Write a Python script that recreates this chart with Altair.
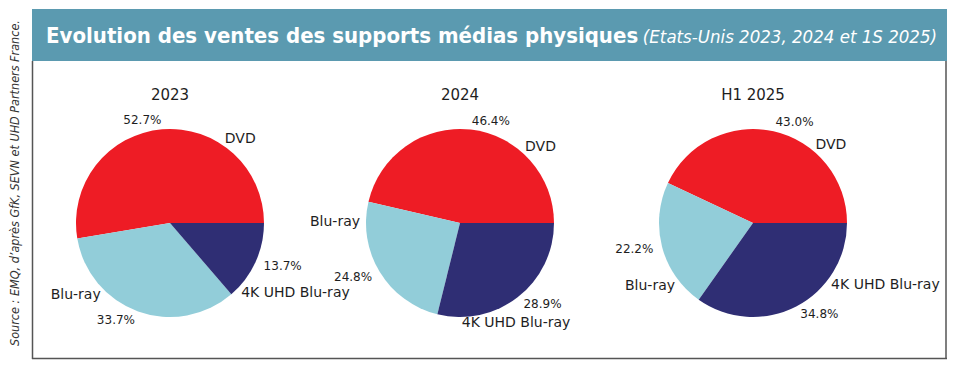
import math
import altair as alt
import pandas as pd

# ---------------- data ----------------
PANELS = ["2023", "2024", "H1 2025"]
CATEGORIES = ["DVD", "Blu-ray", "4K UHD Blu-ray"]
SHARES_2023 = [52.7, 33.7, 13.7]
SHARES_2024 = [46.4, 24.8, 28.9]
SHARES_H1_2025 = [43.0, 22.2, 34.8]
SHARES = [SHARES_2023, SHARES_2024, SHARES_H1_2025]
COLORS = ["#ee1c25", "#92cdd9", "#2f2e74"]

TITLE = "Evolution des ventes des supports médias physiques"
SUBTITLE = "(Etats-Unis 2023, 2024 et 1S 2025)"
SOURCE = "Source : EMQ, d’après GfK, SEVN et UHD Partners France."

# ---------------- layout ----------------
W, H = 939, 354
CENTERS_X = [162, 452, 745]
CY = 215
R = 94
PCT_R = 103
NAME_R = 100
# angular nudge (degrees, counter-clockwise) of each category name from its slice middle
NAME_SHIFT_DEG = [[-38, -24, -20], [-34, -32, -37], [-26, 24, 24]]
BANNER = "#5b9ab0"
FRAME = "#555555"
TXT = "#1e1e1e"
NARROW = "Liberation Sans Narrow, DejaVu Sans Condensed, Arial Narrow, sans-serif"
PIEFONT = "DejaVu Sans"

theta_scale = alt.Scale(domain=[0, 1], range=[math.pi / 2, math.pi / 2 - 2 * math.pi])
color_scale = alt.Scale(domain=CATEGORIES, range=COLORS)


def panel_frame(values, shifts):
    total = sum(values)
    rows = []
    acc = 0.0
    for cat, v, sh in zip(CATEGORIES, values, shifts):
        start = acc / total
        acc += v
        end = acc / total
        mid = (start + end) / 2
        name_t = mid + sh / 360.0
        rows.append({
            "category": cat,
            "value": v,
            "pct": f"{v:.1f}%",
            "start": start,
            "end": end,
            "mid": mid,
            "name_t": name_t,
            "pct_side": "R" if math.cos(2 * math.pi * mid) > 0 else "L",
            "name_side": "R" if math.cos(2 * math.pi * name_t) > 0 else "L",
        })
    return pd.DataFrame(rows)


layers = []

# banner
layers.append(
    alt.Chart(pd.DataFrame({"a": [0]})).mark_rect(color=BANNER).encode(
        x=alt.value(24), x2=alt.value(939), y=alt.value(1), y2=alt.value(53)
    )
)
layers.append(
    alt.Chart(pd.DataFrame({"t": [TITLE]})).mark_text(
        align="left", baseline="alphabetic", font=NARROW, fontWeight="bold",
        fontSize=22, color="white"
    ).encode(x=alt.value(38), y=alt.value(35), text="t:N")
)
layers.append(
    alt.Chart(pd.DataFrame({"t": [SUBTITLE]})).mark_text(
        align="right", baseline="alphabetic", font=NARROW, fontStyle="italic",
        fontSize=18.5, color="white"
    ).encode(x=alt.value(929), y=alt.value(35), text="t:N")
)
# frame
layers.append(
    alt.Chart(pd.DataFrame({"a": [0]})).mark_rule(color=FRAME, strokeWidth=1.5).encode(
        x=alt.value(24.5), y=alt.value(53), y2=alt.value(351)
    )
)
layers.append(
    alt.Chart(pd.DataFrame({"a": [0]})).mark_rule(color=FRAME, strokeWidth=1.5).encode(
        x=alt.value(938), y=alt.value(53), y2=alt.value(351)
    )
)
layers.append(
    alt.Chart(pd.DataFrame({"a": [0]})).mark_rule(color=FRAME, strokeWidth=1.5).encode(
        x=alt.value(24), x2=alt.value(939), y=alt.value(350.5)
    )
)
# source
layers.append(
    alt.Chart(pd.DataFrame({"t": [SOURCE]})).mark_text(
        align="center", baseline="middle", angle=270, font=NARROW,
        fontStyle="italic", fontSize=12.5, color="#333333"
    ).encode(x=alt.value(7), y=alt.value(175), text="t:N")
)

for name, vals, cx, shifts in zip(PANELS, SHARES, CENTERS_X, NAME_SHIFT_DEG):
    df = panel_frame(vals, shifts)
    base = alt.Chart(df)
    layers.append(
        base.mark_arc(radius=R).encode(
            theta=alt.Theta("start:Q", scale=theta_scale, stack=False),
            theta2="end:Q",
            color=alt.Color("category:N", scale=color_scale, legend=None),
            x=alt.value(cx),
            y=alt.value(CY),
        )
    )
    for side, align in (("R", "left"), ("L", "right")):
        layers.append(
            base.transform_filter(alt.datum.pct_side == side).mark_text(
                align=align, baseline="middle", font=PIEFONT, fontSize=12, color=TXT
            ).encode(
                theta=alt.Theta("mid:Q", scale=theta_scale, stack=False),
                radius=alt.value(PCT_R),
                x=alt.value(cx),
                y=alt.value(CY),
                text="pct:N",
            )
        )
        layers.append(
            base.transform_filter(alt.datum.name_side == side).mark_text(
                align=align, baseline="middle", font=PIEFONT, fontSize=14, color=TXT
            ).encode(
                theta=alt.Theta("name_t:Q", scale=theta_scale, stack=False),
                radius=alt.value(NAME_R),
                x=alt.value(cx),
                y=alt.value(CY),
                text="category:N",
            )
        )
    layers.append(
        alt.Chart(pd.DataFrame({"t": [name]})).mark_text(
            align="center", baseline="alphabetic", font=PIEFONT, fontSize=15, color=TXT
        ).encode(x=alt.value(cx), y=alt.value(92), text="t:N")
    )

chart = alt.layer(*layers).properties(
    width=W, height=H, autosize=alt.AutoSizeParams(type="none"), padding=0,
    background="white",
).configure_view(stroke=None)

chart.save("out.html", embed_options={"renderer": "svg", "actions": False})
